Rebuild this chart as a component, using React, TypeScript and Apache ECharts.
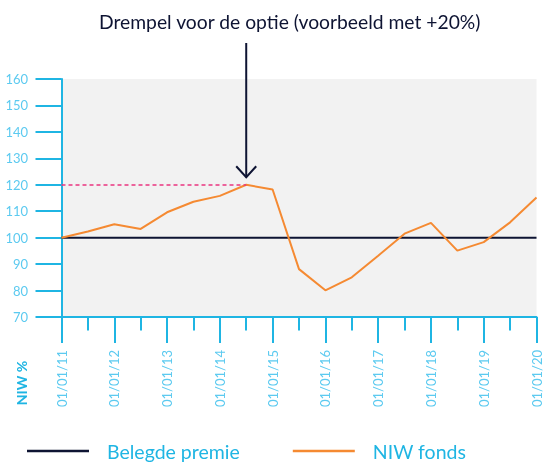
import React, { useEffect, useRef } from "react";
import * as echarts from "echarts";

const categories = [
  "01/01/11", "01/07/11", "01/01/12", "01/07/12", "01/01/13", "01/07/13",
  "01/01/14", "01/07/14", "01/01/15", "01/07/15", "01/01/16", "01/07/16",
  "01/01/17", "01/07/17", "01/01/18", "01/07/18", "01/01/19", "01/07/19",
  "01/01/20",
];
const niwFonds = [
  100, 102.3, 105.1, 103.3, 109.6, 113.6, 115.8, 120, 118.2, 88.1, 80.1,
  85.0, 93.2, 101.5, 105.6, 95.1, 98.3, 105.8, 115.2,
];
const belegdePremie = [
  100, 100, 100, 100, 100, 100, 100, 100, 100, 100, 100, 100, 100, 100, 100,
  100, 100, 100, 100,
];
const yMin = 70;
const yMax = 160;
const yInterval = 10;
const thresholdValue = 120;
const thresholdIndex = 7;
const titleText = "Drempel voor de optie (voorbeeld met +20%)";
const yAxisName = "NIW %";
const seriesNames = ["Belegde premie", "NIW fonds"];

const CYAN = "#1fb5e3";
const LABEL_CYAN = "#5ccaf0";
const NAVY = "#0e1433";
const ORANGE = "#f58a32";
const PINK = "#ea3580";
const FONT = "Lato";

export default function App() {
  const ref = useRef<HTMLDivElement>(null);
  useEffect(() => {
    if (!ref.current) return;
    const chart = echarts.init(ref.current, undefined, { renderer: "svg" });
    chart.setOption({
      animation: false,
      title: {
        text: titleText,
        left: 94,
        top: 7,
        textStyle: { fontFamily: FONT, fontSize: 19.3, fontWeight: "normal", color: NAVY },
      },
      legend: {
        left: 27,
        top: 441,
        padding: 0,
        icon: "rect",
        itemWidth: 62,
        itemHeight: 2.5,
        itemGap: 53,
        textStyle: { fontFamily: FONT, fontSize: 19.5, color: CYAN, padding: [0, 0, 0, 13] },
        data: seriesNames,
      },
      grid: {
        left: 61.5,
        right: 3.7,
        top: 79,
        bottom: 147,
        show: true,
        backgroundColor: "#f2f2f2",
        borderWidth: 0,
      },
      xAxis: [
        {
          type: "category",
          data: categories,
          boundaryGap: false,
          axisLine: { show: true, lineStyle: { color: CYAN, width: 2 } },
          axisTick: { show: true, interval: 0, length: 13.5, lineStyle: { color: CYAN, width: 2 } },
          axisLabel: { show: false },
          splitLine: { show: false },
        },
        {
          type: "category",
          data: categories,
          boundaryGap: false,
          position: "bottom",
          axisLine: { show: false },
          axisTick: { show: true, interval: 1, length: 26, lineStyle: { color: CYAN, width: 2 } },
          axisLabel: {
            show: true,
            interval: 1,
            rotate: 90,
            margin: 33,
            fontFamily: FONT,
            fontSize: 13,
            color: LABEL_CYAN,
          },
          splitLine: { show: false },
        },
      ],
      yAxis: {
        type: "value",
        min: yMin,
        max: yMax,
        interval: yInterval,
        axisLine: { show: true, lineStyle: { color: CYAN, width: 2 } },
        axisTick: { show: true, length: 26, lineStyle: { color: CYAN, width: 2 } },
        axisLabel: { margin: 33.5, fontFamily: FONT, fontSize: 13, color: LABEL_CYAN },
        splitLine: { show: false },
      },
      series: [
        {
          name: seriesNames[0],
          type: "line",
          data: belegdePremie,
          symbol: "none",
          lineStyle: { color: NAVY, width: 2 },
          itemStyle: { color: NAVY },
          z: 3,
        },
        {
          name: seriesNames[1],
          type: "line",
          data: niwFonds,
          symbol: "none",
          lineStyle: { color: ORANGE, width: 2 },
          itemStyle: { color: ORANGE },
          z: 4,
          markLine: {
            silent: true,
            symbol: "none",
            label: { show: false },
            lineStyle: { color: PINK, width: 1.5, type: [4, 3] },
            data: [
              [
                { coord: [0, thresholdValue] },
                { coord: [thresholdIndex, thresholdValue] },
              ],
            ],
          },
        },
      ],
    });

    const p = chart.convertToPixel({ xAxisIndex: 0, yAxisIndex: 0 }, [thresholdIndex, thresholdValue]) as number[];
    const px = p[0];
    const tipY = p[1] - 7.5;
    chart.setOption({
      graphic: [
        {
          type: "line",
          shape: { x1: px, y1: 43, x2: px, y2: tipY },
          style: { stroke: NAVY, lineWidth: 2 },
          z: 10,
        },
        {
          type: "polyline",
          shape: { points: [[px - 10, tipY - 11], [px, tipY], [px + 10, tipY - 11]] },
          style: { stroke: NAVY, lineWidth: 2, fill: "none" },
          z: 10,
        },
        {
          type: "text",
          x: 21,
          y: 383,
          rotation: Math.PI / 2,
          style: {
            text: yAxisName,
            fontFamily: FONT,
            fontSize: 14,
            fontWeight: "bold",
            fill: CYAN,
            align: "center",
            verticalAlign: "middle",
          },
        },
      ],
    });

    return () => chart.dispose();
  }, []);
  return (
    <div
      ref={ref}
      style={{ position: "fixed", left: 0, top: 0, width: 543, height: 464 }}
    />
  );
}
